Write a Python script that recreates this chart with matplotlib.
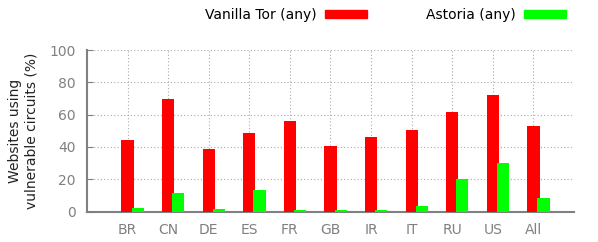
import numpy as np
import matplotlib.pyplot as plt
from matplotlib.patches import Patch

countries = ['BR', 'CN', 'DE', 'ES', 'FR', 'GB', 'IR', 'IT', 'RU', 'US', 'All']
vanilla = [44.3, 69.7, 38.5, 48.4, 56.0, 40.5, 46.0, 50.5, 61.6, 72.1, 53.1]
astoria = [2.2, 11.5, 1.3, 13.3, 1.0, 0.9, 0.9, 3.4, 20.3, 29.8, 8.4]

red = '#ff0000'
green = '#00ff00'
gray = '#808080'

fig = plt.figure(figsize=(5.98, 2.42), dpi=100)
ax = fig.add_axes([87/598, 1 - 211.5/242, (574 - 87)/598, (211.5 - 50)/242])

x = np.arange(len(countries))
ax.bar(x, vanilla, width=0.3, color=red, zorder=3)
ax.bar(x + 0.25, astoria, width=0.3, color=green, zorder=3)

ax.set_xlim(-1, 11)
ax.set_ylim(0, 100)
ax.set_xticks(x)
ax.set_xticklabels(countries)
ax.set_yticks([0, 20, 40, 60, 80, 100])

ax.grid(True, linestyle=(0, (1, 2)), color='#aaaaaa', linewidth=0.8, zorder=0)
for s in ['top', 'right']:
    ax.spines[s].set_visible(False)
for s in ['left', 'bottom']:
    ax.spines[s].set_color(gray)
    ax.spines[s].set_linewidth(1.5)

ax.tick_params(axis='x', length=0, pad=8, labelsize=10, labelcolor=gray)
ax.tick_params(axis='y', direction='in', length=4, color=gray, pad=8, labelsize=10, labelcolor=gray)

ax.set_ylabel('Websites using\nvulnerable circuits (%)', fontsize=10, color='#222222', labelpad=8)

handles = [Patch(color=red), Patch(color=green)]
fig.legend(handles, ['Vanilla Tor (any)', 'Astoria (any)'], ncol=2, markerfirst=False,
           loc='center', bbox_to_anchor=(385.5/598, 1 - 15/242), frameon=False, fontsize=10,
           handlelength=3.0, handleheight=0.55, handletextpad=0.6, columnspacing=4.3)

plt.savefig('out.png', dpi=100)
